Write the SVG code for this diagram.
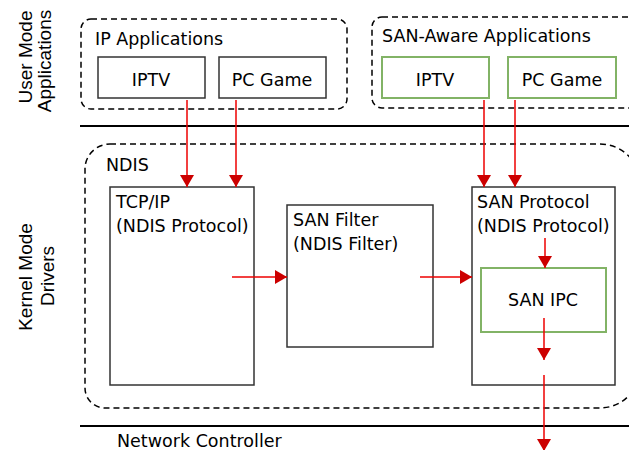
<svg xmlns="http://www.w3.org/2000/svg" width="629" height="450" viewBox="0 0 629 450">
<defs>
<style>
text{font-family:"DejaVu Sans","Liberation Sans",sans-serif;font-size:17.5px;fill:#000}
.side{font-family:"Liberation Sans",Arial,sans-serif;font-size:19px}
.dash{fill:none;stroke:#000;stroke-width:1.5;stroke-dasharray:6 4}
.box{fill:#fff;stroke:#333;stroke-width:1.5}
.gbox{fill:#fff;stroke:#82b366;stroke-width:2}
.sep{stroke:#000;stroke-width:2}
.arr{stroke:#ee0000;stroke-width:1.5;fill:none;marker-end:url(#ah)}
.c{text-anchor:middle}
</style>
<marker id="ah" markerUnits="userSpaceOnUse" markerWidth="14" markerHeight="16" refX="12" refY="7" orient="auto">
<path d="M0,0 L12,7 L0,14 Z" fill="#cc0000"/>
</marker>
</defs>

<g id="labels">
<text class="side c" transform="translate(32,57) rotate(-90)">User Mode</text>
<text class="side c" transform="translate(51,61) rotate(-90)">Applications</text>
<text class="side c" transform="translate(32,277) rotate(-90)">Kernel Mode</text>
<text class="side c" transform="translate(54,276) rotate(-90)">Drivers</text>
</g>

<g id="separators">
<line class="sep" x1="80" y1="126" x2="629" y2="126"/>
<line class="sep" x1="80" y1="426" x2="629" y2="426"/>
<text x="117" y="447">Network Controller</text>
</g>

<g id="ip-apps">
<rect class="dash" x="81" y="19" width="266" height="90" rx="10"/>
<text x="95" y="45">IP Applications</text>
</g>
<g id="ip-iptv">
<rect class="box" x="98" y="57" width="107" height="41"/>
<text class="c" x="151" y="86">IPTV</text>
</g>
<g id="ip-pcgame">
<rect class="box" x="219" y="57" width="107" height="41"/>
<text class="c" x="272" y="86">PC Game</text>
</g>

<g id="san-apps">
<rect class="dash" x="372" y="17" width="275" height="91" rx="10"/>
<text x="382" y="42">SAN-Aware Applications</text>
</g>
<g id="san-iptv">
<rect class="gbox" x="382" y="57" width="107" height="41"/>
<text class="c" x="435" y="86">IPTV</text>
</g>
<g id="san-pcgame">
<rect class="gbox" x="508" y="57" width="108" height="41"/>
<text class="c" x="562" y="86">PC Game</text>
</g>

<g id="ndis">
<path class="dash" d="M110 144 H600 A40 40 0 0 1 640 184 V368 A40 40 0 0 1 600 408 H105 A20 20 0 0 1 85 388 V169 A25 25 0 0 1 110 144 Z"/>
<text x="106" y="171">NDIS</text>
</g>
<g id="tcpip">
<rect class="box" x="110" y="187" width="144" height="198"/>
<text x="116" y="208">TCP/IP</text>
<text x="116" y="232">(NDIS Protocol)</text>
</g>
<g id="san-filter">
<rect class="box" x="287" y="205" width="146" height="142"/>
<text x="293" y="226">SAN Filter</text>
<text x="293" y="250">(NDIS Filter)</text>
</g>
<g id="san-protocol">
<rect class="box" x="472" y="187" width="143" height="198"/>
<text x="477" y="208">SAN Protocol</text>
<text x="477" y="232">(NDIS Protocol)</text>
</g>
<g id="san-ipc">
<rect class="gbox" x="481" y="268" width="125" height="64"/>
<text class="c" x="543" y="306">SAN IPC</text>
</g>

<g id="connectors">
<line class="arr" x1="187" y1="100" x2="187" y2="187"/>
<line class="arr" x1="236" y1="100" x2="236" y2="187"/>
<line class="arr" x1="484" y1="100" x2="484" y2="187"/>
<line class="arr" x1="515" y1="100" x2="515" y2="187"/>
<line class="arr" x1="232" y1="277" x2="287" y2="277"/>
<line class="arr" x1="420" y1="277" x2="472" y2="277"/>
<line class="arr" x1="545" y1="238" x2="545" y2="268"/>
<line class="arr" x1="544" y1="318" x2="544" y2="360"/>
<line class="arr" x1="544" y1="375" x2="544" y2="451"/>
</g>
</svg>
